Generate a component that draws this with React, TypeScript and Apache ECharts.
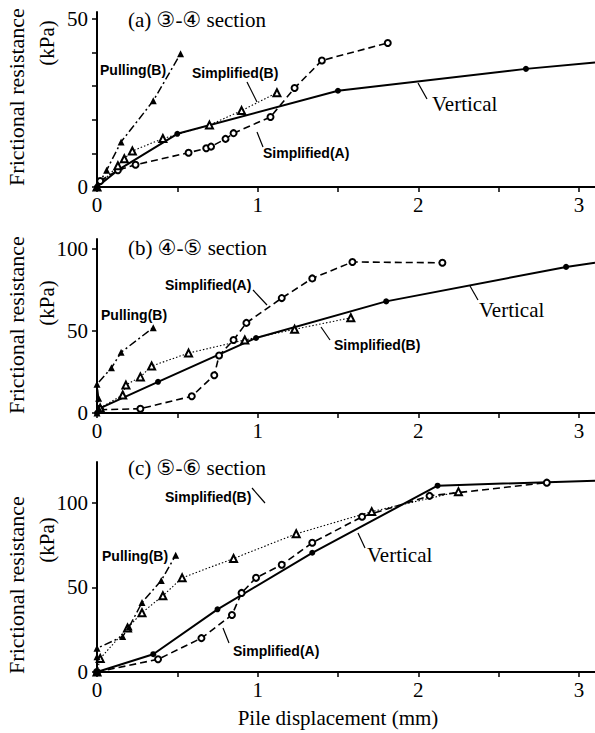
import React, { useEffect, useRef } from "react";
import * as echarts from "echarts";

// ---------- data ----------
const xTicks = [0, 0.5, 1, 1.5, 2, 2.5, 3];
const xLabels = [0, 1, 2, 3];

// (a) 3-4 section
const aVertical = [[0, 0], [0.13, 5], [0.5, 15.8], [1.5, 28.6], [2.67, 35.1], [3.1, 37]];
const aSimpA = [[0.02, 1.8], [0.13, 5], [0.24, 6.6], [0.57, 10.2], [0.68, 11.5], [0.71, 12], [0.8, 14.3], [0.85, 16], [1.08, 20.8], [1.23, 29.4], [1.4, 37.6], [1.81, 42.8]];
const aSimpB = [[0, 0], [0.13, 6.3], [0.17, 8.4], [0.22, 10.7], [0.41, 14.4], [0.7, 18.4], [0.9, 22.7], [1.12, 28]];
const aPull = [[0, 0], [0.06, 5], [0.15, 13.4], [0.35, 25.6], [0.52, 39.6]];
const aYTicks = [0, 10, 20, 30, 40, 50];
const aYLabels = [0, 50];

// (b) 4-5 section
const bVertical = [[0, 0], [0.02, 3], [0.38, 19], [0.99, 45.7], [1.8, 68], [2.92, 89], [3.1, 91.5]];
const bSimpA = [[0.02, 2], [0.27, 2.6], [0.59, 10.2], [0.73, 23], [0.76, 35], [0.85, 44.5], [0.93, 54.9], [1.15, 70], [1.34, 82], [1.59, 92], [2.15, 91.5]];
const bSimpB = [[0.02, 3], [0.16, 11], [0.18, 17], [0.27, 22], [0.34, 28.6], [0.57, 36.5], [0.92, 44.5], [1.23, 51], [1.58, 58]];
const bPull = [[0, 0], [0.01, 3], [0.01, 9], [0, 17.5], [0.09, 27.5], [0.15, 37], [0.35, 52]];
const bYTicks = [0, 50, 100];
const bYLabels = [0, 50, 100];

// (c) 5-6 section
const cVertical = [[0, 0], [0.35, 10.5], [0.75, 37], [1.34, 70.4], [2.12, 110], [3.1, 113]];
const cSimpA = [[0, 0], [0.38, 7.5], [0.65, 20], [0.84, 33.7], [0.9, 46.7], [0.99, 55.6], [1.15, 63.3], [1.34, 76.3], [1.65, 91.7], [2.07, 104], [2.8, 111.8]];
const cSimpB = [[0, 0], [0.02, 8], [0.19, 26], [0.28, 35], [0.41, 45], [0.53, 55.6], [0.85, 67], [1.24, 81.6], [1.71, 94.7], [2.25, 106.5]];
const cPull = [[0, 0], [0, 9], [0, 14], [0.16, 21], [0.2, 26.6], [0.28, 41], [0.4, 54], [0.49, 69]];
const cYTicks = [0, 50, 100];
const cYLabels = [0, 50, 100];

const SERIF = "'Liberation Serif', 'Times New Roman', serif";
const SERIF_CIRC = "'Liberation Serif', 'DejaVu Sans', 'Noto Sans CJK JP', serif";
const SANS = "'Liberation Sans', Arial, sans-serif";

const panels = [
  { top: 12, height: 175, max: 52, yTicks: aYTicks, yLabels: aYLabels, v: aVertical, sa: aSimpA, sb: aSimpB, p: aPull },
  { top: 239, height: 174, max: 106, yTicks: bYTicks, yLabels: bYLabels, v: bVertical, sa: bSimpA, sb: bSimpB, p: bPull },
  { top: 462, height: 210, max: 124, yTicks: cYTicks, yLabels: cYLabels, v: cVertical, sa: cSimpA, sb: cSimpB, p: cPull },
];

function lastNoSymbol(data: number[][], edge: boolean) {
  return data.map((d, i) =>
    edge && i === data.length - 1 ? { value: d, symbol: "none" } : { value: d }
  );
}

export default function App() {
  const ref = useRef<HTMLDivElement>(null);
  useEffect(() => {
    if (!ref.current) return;
    const chart = echarts.init(ref.current, undefined, { renderer: "svg" });
    const grids: any[] = [];
    const xAxes: any[] = [];
    const yAxes: any[] = [];
    const series: any[] = [];
    panels.forEach((pn, i) => {
      grids.push({ left: 97, top: pn.top, width: 499, height: pn.height });
      xAxes.push({
        type: "value", gridIndex: i, min: 0, max: 3.1,
        axisLine: { show: true, lineStyle: { color: "#000", width: 2 } },
        axisTick: { show: true, customValues: xTicks, length: 5, lineStyle: { color: "#000", width: 1.5 } },
        axisLabel: { show: true, customValues: xLabels, margin: 7, color: "#000", fontFamily: SERIF, fontSize: 21 },
        splitLine: { show: false },
      });
      yAxes.push({
        type: "value", gridIndex: i, min: 0, max: pn.max,
        axisLine: { show: true, lineStyle: { color: "#000", width: 2 } },
        axisTick: { show: true, customValues: pn.yTicks, length: 5, lineStyle: { color: "#000", width: 1.5 } },
        axisLabel: { show: true, customValues: pn.yLabels, margin: 9, color: "#000", fontFamily: SERIF, fontSize: 21 },
        splitLine: { show: false },
      });
      const common = { type: "line", xAxisIndex: i, yAxisIndex: i, clip: true, z: 3 };
      series.push({
        ...common, name: "Vertical", data: lastNoSymbol(pn.v, true),
        symbol: "circle", symbolSize: 6,
        lineStyle: { color: "#000", width: 2, type: "solid" },
        itemStyle: { color: "#000" },
      });
      series.push({
        ...common, name: "Simplified(A)", data: lastNoSymbol(pn.sa, false),
        symbol: "emptyCircle", symbolSize: 6,
        lineStyle: { color: "#000", width: 1.6, type: [7, 4] },
        itemStyle: { color: "#000", borderColor: "#000", borderWidth: 1.2 },
      });
      series.push({
        ...common, name: "Simplified(B)", data: lastNoSymbol(pn.sb, false),
        symbol: "emptyTriangle", symbolSize: 7,
        lineStyle: { color: "#000", width: 1.1, type: [1.5, 2] },
        itemStyle: { color: "#000", borderColor: "#000", borderWidth: 1.2 },
      });
      series.push({
        ...common, name: "Pulling(B)", data: lastNoSymbol(pn.p, false),
        symbol: "triangle", symbolSize: 7,
        lineStyle: { color: "#000", width: 1.5, type: [8, 3, 2, 3] },
        itemStyle: { color: "#000" },
      });
    });

    const txt = (x: number, y: number, text: string, font: string, size: number, opts: any = {}) => ({
      type: "text", x, y, rotation: opts.rotation || 0, z: 10,
      style: {
        text, fill: "#000", fontFamily: font, fontSize: size, fontWeight: opts.weight || "normal",
        textAlign: opts.align || "left", textVerticalAlign: "middle",
      },
    });
    const ln = (x1: number, y1: number, x2: number, y2: number) => ({
      type: "line", z: 10, shape: { x1, y1, x2, y2 }, style: { stroke: "#000", lineWidth: 1.2 },
    });
    const lab = (x: number, y: number, t: string) => txt(x, y, t, SANS, 14, { weight: "bold" });

    const graphic: any[] = [
      // panel titles
      txt(128, 20, "(a) ③-④ section", SERIF_CIRC, 21),
      txt(128, 248, "(b) ④-⑤ section", SERIF_CIRC, 21),
      txt(128, 468, "(c) ⑤-⑥ section", SERIF_CIRC, 21),
      // y axis titles
      txt(16, 97, "Frictional resistance", SERIF, 22, { rotation: Math.PI / 2, align: "center" }),
      txt(47, 43, "(kPa)", SERIF, 21, { rotation: Math.PI / 2, align: "center" }),
      txt(16, 325, "Frictional resistance", SERIF, 22, { rotation: Math.PI / 2, align: "center" }),
      txt(47, 303, "(kPa)", SERIF, 21, { rotation: Math.PI / 2, align: "center" }),
      txt(16, 585, "Frictional resistance", SERIF, 22, { rotation: Math.PI / 2, align: "center" }),
      txt(47, 540, "(kPa)", SERIF, 21, { rotation: Math.PI / 2, align: "center" }),
      // x axis title
      txt(338, 718, "Pile displacement (mm)", SERIF, 21, { align: "center" }),
      // panel a labels
      lab(100, 70, "Pulling(B)"),
      lab(192, 73, "Simplified(B)"),
      ln(247, 82, 257, 102),
      lab(263, 153, "Simplified(A)"),
      ln(257, 132, 263, 147),
      txt(432, 104, "Vertical", SERIF, 21),
      ln(418, 83, 427, 99),
      // panel b labels
      lab(165, 285, "Simplified(A)"),
      ln(253, 290, 267, 305),
      lab(101, 315, "Pulling(B)"),
      lab(334, 345, "Simplified(B)"),
      ln(321, 327, 330, 340),
      txt(479, 310, "Vertical", SERIF, 21),
      ln(470, 286, 478, 300),
      // panel c labels
      lab(165, 497, "Simplified(B)"),
      ln(252, 488, 265, 503),
      lab(102, 556, "Pulling(B)"),
      txt(367, 555, "Vertical", SERIF, 21),
      ln(358, 533, 365, 548),
      lab(233, 651, "Simplified(A)"),
      ln(223, 628, 229, 643),
    ];

    chart.setOption({
      animation: false,
      backgroundColor: "#fff",
      grid: grids,
      xAxis: xAxes,
      yAxis: yAxes,
      series,
      graphic,
    });
    return () => chart.dispose();
  }, []);
  return <div ref={ref} style={{ position: "fixed", left: 0, top: 0, width: 595, height: 733, background: "#fff" }} />;
}
